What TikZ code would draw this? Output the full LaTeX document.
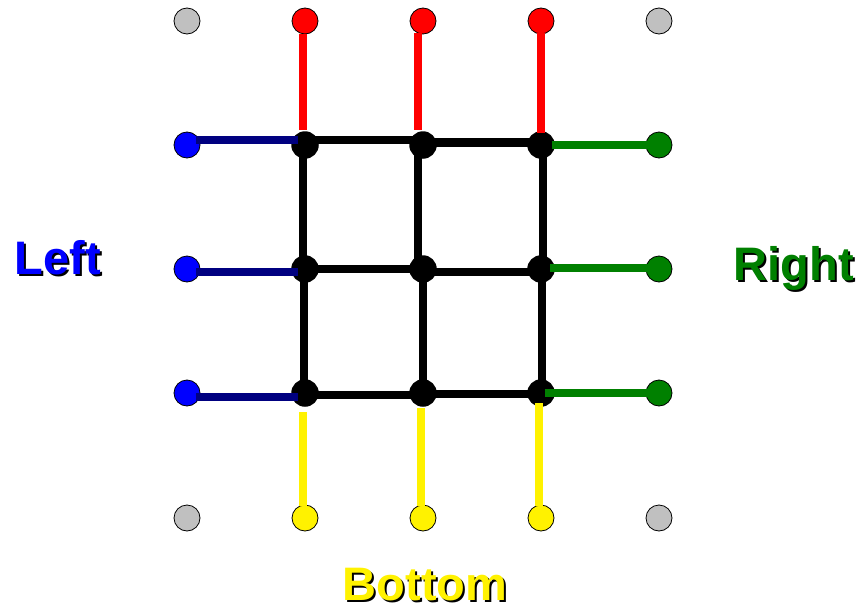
\documentclass[tikz,border=0pt]{standalone}
\usepackage{fontspec}
\setmainfont{Liberation Sans}
\begin{document}
\begin{tikzpicture}[x=1pt,y=-1pt,
  dot/.style={circle,draw=black,line width=0.8pt,minimum size=26pt,inner sep=0pt},
  bdot/.style={circle,fill=black,minimum size=27.5pt,inner sep=0pt},
  grid/.style={line width=7.5pt,black},
  redl/.style={line width=7.5pt,red},
  bluel/.style={line width=7.5pt,navyc},
  greenl/.style={line width=7.5pt,greenc},
  yell/.style={line width=7.5pt,yellow},
  lab/.style={font=\fontsize{47}{47}\selectfont\bfseries,inner sep=0pt}]
\definecolor{navyc}{RGB}{0,0,128}
\definecolor{greenc}{RGB}{0,128,0}
\definecolor{grayc}{RGB}{192,192,192}
\definecolor{bluec}{RGB}{0,0,255}
\useasboundingbox (0,0) rectangle (860,605);
% black grid nodes
\foreach \r/\y in {1/145,2/269,3/393}{
  \foreach \c/\x in {1/305,2/423,3/541}{
    \node[bdot] (g\r\c) at (\x,\y) {};
  }
}
% corner nodes
\node[dot,fill=grayc] (c1) at (187,21) {};
\node[dot,fill=grayc] (c2) at (659,21) {};
\node[dot,fill=grayc] (c3) at (187,518) {};
\node[dot,fill=grayc] (c4) at (659,518) {};
% top red
\node[dot,fill=red] (t1) at (305,21) {};
\node[dot,fill=red] (t2) at (423,21) {};
\node[dot,fill=red] (t3) at (541,21) {};
% left blue
\node[dot,fill=bluec] (l1) at (187,145) {};
\node[dot,fill=bluec] (l2) at (187,269) {};
\node[dot,fill=bluec] (l3) at (187,393) {};
% right green
\node[dot,fill=greenc] (r1) at (659,145) {};
\node[dot,fill=greenc] (r2) at (659,269) {};
\node[dot,fill=greenc] (r3) at (659,393) {};
% bottom yellow
\node[dot,fill=yellow] (b1) at (305,518) {};
\node[dot,fill=yellow] (b2) at (423,518) {};
\node[dot,fill=yellow] (b3) at (541,518) {};
% black grid lines
\draw[grid] ([yshift=5pt]g11.center) -- ([yshift=5pt]g12.center);
\draw[grid,line width=9pt] ([yshift=3pt]g12.center) -- ([yshift=3pt]g13.center);
\draw[grid] (g21.center) -- (g22.center);
\draw[grid] ([yshift=-3pt]g22.center) -- ([yshift=-3pt]g23.center);
\draw[grid] ([yshift=-2pt]g31.center) -- ([yshift=-2pt]g32.center);
\draw[grid] ([yshift=-1pt]g32.center) -- ([yshift=-1pt]g33.center);
\draw[grid] ([xshift=-2pt]g11.center) -- ([xshift=-2pt]g21.center);
\draw[grid] ([xshift=-1pt]g21.center) -- ([xshift=-1pt]g31.center);
\draw[grid] ([xshift=-5pt]g12.center) -- ([xshift=-5pt]g22.center);
\draw[grid] (g22.center) -- (g32.center);
\draw[grid] ([xshift=2pt]g13.center) -- ([xshift=2pt]g23.center);
\draw[grid] ([xshift=1pt]g23.center) -- ([xshift=1pt]g33.center);
% red lines
\draw[redl] ([xshift=-2pt]t1.south) -- ([xshift=-2pt,yshift=15pt]g11.center);
\draw[redl] ([xshift=-5pt,yshift=1pt]t2.south) -- ([xshift=-5pt,yshift=15pt]g12.center);
\draw[redl] ([yshift=1pt]t3.south) -- ([yshift=12pt]g13.center);
% blue lines
\draw[bluel] ([xshift=9pt,yshift=5pt]l1.center) -- ([xshift=-7pt,yshift=5pt]g11.center);
\draw[bluel] ([xshift=9pt,yshift=-3pt]l2.center) -- ([xshift=-7pt,yshift=-3pt]g21.center);
\draw[bluel] ([xshift=9pt,yshift=-4pt]l3.center) -- ([xshift=-7pt,yshift=-4pt]g31.center);
% green lines
\draw[greenl] ([xshift=11pt]g13.center) -- ([xshift=-9pt]r1.center);
\draw[greenl] ([xshift=9pt,yshift=1pt]g23.center) -- ([xshift=-9pt,yshift=1pt]r2.center);
\draw[greenl] ([xshift=4pt]g33.center) -- ([xshift=-9pt]r3.center);
% yellow lines
\draw[yell] ([xshift=-2pt,yshift=-19pt]g31.center) -- ([xshift=-2pt,yshift=-1pt]b1.north);
\draw[yell] ([xshift=-2pt,yshift=-15pt]g32.center) -- ([xshift=-2pt,yshift=-1pt]b2.north);
\draw[yell] ([xshift=-2pt,yshift=-10pt]g33.center) -- ([xshift=-2pt,yshift=-1pt]b3.north);
% labels with shadows
\node[lab,black] (lefts) at (60,260) {Left};
\node[lab,bluec] (left) at (58,258) {Left};
\node[lab,black] (rights) at (796,270) {Right};
\node[lab,greenc] (right) at (794,268) {Right};
\node[lab,black] (bottoms) at (427,587) {Bottom};
\node[lab,yellow] (bottom) at (425,585) {Bottom};
\end{tikzpicture}
\end{document}
